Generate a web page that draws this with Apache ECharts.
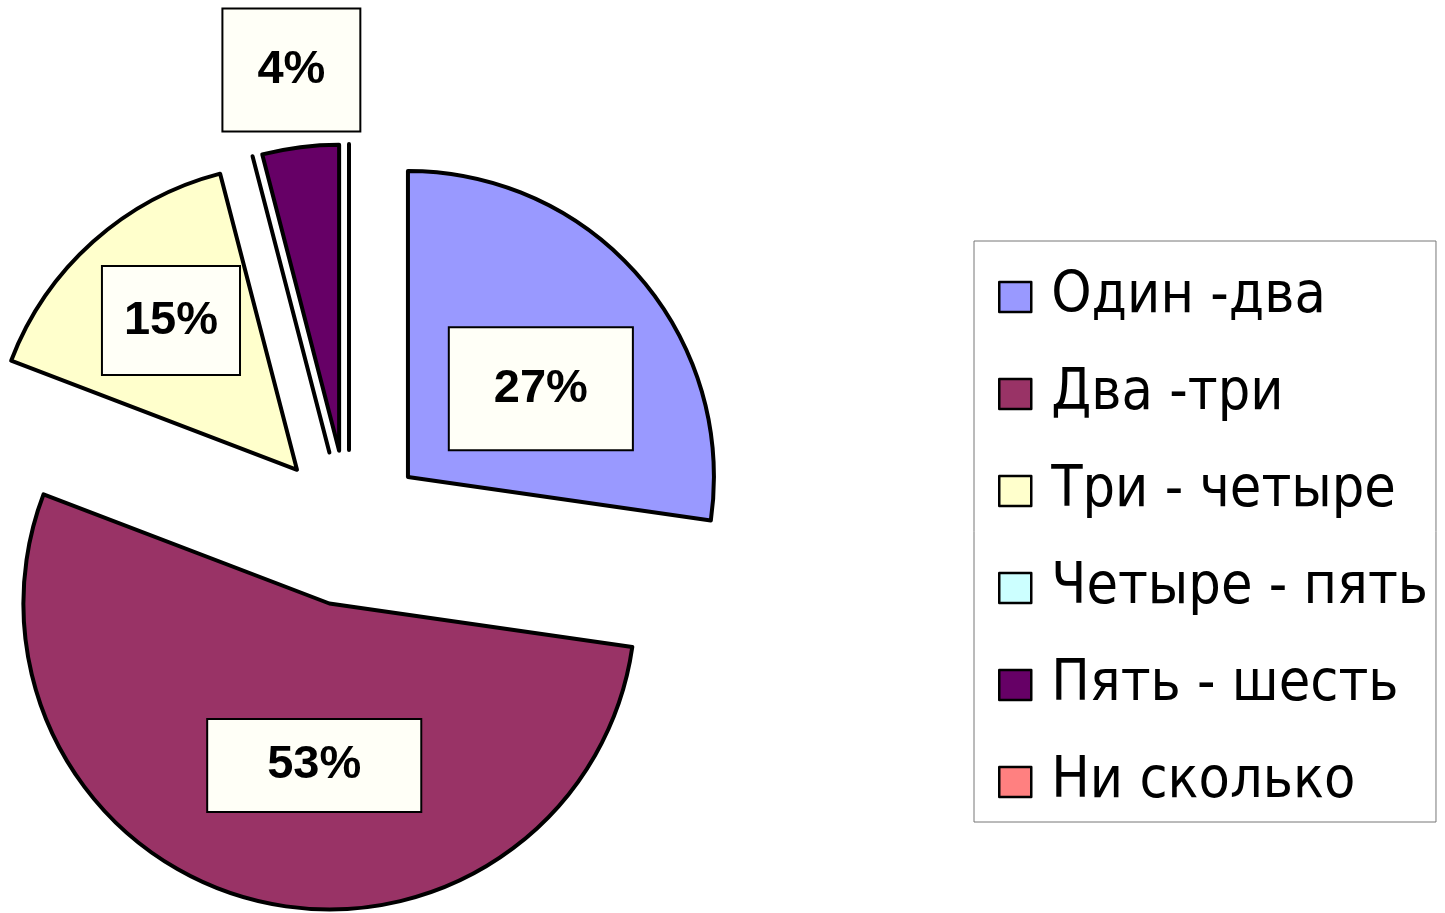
<!DOCTYPE html>
<html>
<head>
<meta charset="utf-8">
<script src="https://cdn.jsdelivr.net/npm/echarts@6/dist/echarts.min.js"></script>
<style>
html,body{margin:0;padding:0;background:#fff;}
#chart{width:1445px;height:913px;}
</style>
</head>
<body>
<div id="chart"></div>
<script>
const categories = ['Один -два', 'Два -три', 'Три - четыре', 'Четыре - пять', 'Пять - шесть', 'Ни сколько'];
const values = [27, 53, 15, 0, 4, 0];
const colors = ['#9999FF', '#993366', '#FFFFCC', '#CCFFFF', '#660066', '#FF8080'];

// per-label box paddings and nudges (style only)
const labelPad = [[37, 44], [22, 59], [30, 21], [0, 0], [37, 34], [0, 0]];
const labelNudge = [[15, 14], [24, 11], [-22, -33], [0, 0], [-28, -226], [0, 0]];

const chart = echarts.init(document.getElementById('chart'));
const data = categories.map((name, i) => ({
  name: name,
  value: values[i],
  selected: true,
  itemStyle: { color: colors[i] },
  label: { show: values[i] > 0, padding: labelPad[i] }
}));

chart.setOption({
  animation: false,
  legend: {
    orient: 'vertical',
    left: 974,
    top: 241,
    padding: [26, 8, 10, 24],
    itemGap: 37,
    itemWidth: 32,
    itemHeight: 30,
    icon: 'rect',
    borderColor: '#777',
    borderWidth: 1,
    selectedMode: false,
    itemStyle: { borderColor: '#000', borderWidth: 2.5 },
    textStyle: { fontFamily: 'DejaVu Sans Condensed', fontSize: 57, lineHeight: 60, color: '#000', padding: [0, 0, 0, 15] },
    data: categories
  },
  series: [{
    type: 'pie',
    center: [349, 528],
    radius: 306,
    startAngle: 90,
    clockwise: true,
    selectedMode: 'multiple',
    selectedOffset: 78,
    avoidLabelOverlap: false,
    stillShowZeroSum: true,
    itemStyle: { borderColor: '#000', borderWidth: 4 },
    emphasis: { disabled: true },
    label: {
      position: 'inside',
      formatter: '{c}%',
      fontFamily: 'Liberation Sans',
      fontWeight: 'bold',
      fontSize: 47,
      color: '#000',
      backgroundColor: '#FFFFF7',
      borderColor: '#000',
      borderWidth: 2
    },
    labelLine: { show: false },
    labelLayout: function (p) {
      const n = labelNudge[p.dataIndex];
      return { dx: n[0], dy: n[1] };
    },
    data: data
  }]
});
</script>
</body>
</html>
